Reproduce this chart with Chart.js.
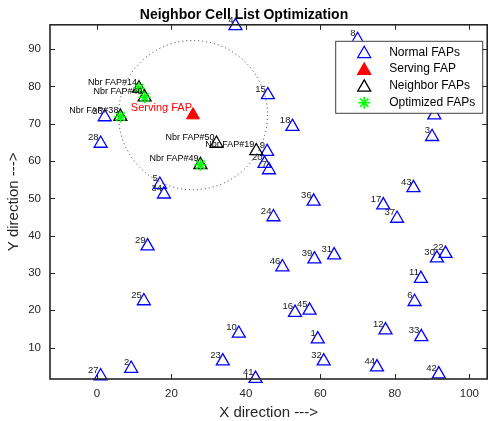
<!DOCTYPE html>
<html>
<head>
<meta charset="utf-8">
<script src="https://cdn.jsdelivr.net/npm/chart.js@4/dist/chart.umd.min.js"></script>
<style>
  html, body { margin: 0; padding: 0; background: #fff; }
</style>
</head>
<body>
<canvas id="c" width="496" height="421"></canvas>
<script>
// Femto access points (FAP) laid out in a 100 x 100 area
const normalIds = [1, 2, 3, 4, 5, 6, 7, 8, 9, 10, 11, 12, 13, 15, 16, 17, 18, 20, 22, 23,
                   24, 25, 26, 27, 28, 29, 30, 31, 32, 33, 34, 36, 37, 39, 41, 42, 43, 44, 45, 46];
const normalX = [59.3, 9.2, 90.0, 37.2, 16.9, 85.3, 46.2, 70.0, 45.7, 38.1, 87.0, 77.5, 90.6, 45.9, 53.2, 76.9, 52.5, 45.0, 93.6, 33.8,
                 47.4, 12.6, 2.1, 1.0, 1.0, 13.6, 91.3, 63.7, 60.9, 87.1, 18.0, 58.2, 80.6, 58.4, 42.6, 91.8, 85.0, 75.2, 57.1, 49.8];
const normalY = [12.3, 4.4, 66.5, 96.2, 53.7, 22.3, 57.6, 92.5, 62.5, 13.8, 28.5, 14.7, 72.3, 77.7, 19.4, 48.2, 69.2, 59.3, 35.2, 6.4,
                 45.0, 22.5, 71.8, 2.4, 64.7, 37.2, 34.0, 34.8, 6.4, 12.9, 51.1, 49.2, 44.6, 33.7, 1.7, 2.9, 52.8, 4.8, 20.0, 31.6];

// Serving FAP and its coverage radius
const servingX = [25.8];
const servingY = [72.3];
const coverageRadius = 20;

// Neighbor cell list before optimization
const neighborIds = [14, 40, 38, 50, 19, 49];
const neighborX = [11.3, 12.8, 6.3, 32.1, 42.8, 27.8];
const neighborY = [79.5, 77.1, 71.9, 64.7, 62.7, 59.0];

// Neighbors kept after optimization
const optimizedIds = [14, 40, 38, 49];

// Axis ticks and limits
const xTicks = [0, 20, 40, 60, 80, 100];
const yTicks = [10, 20, 30, 40, 50, 60, 70, 80, 90];
const xLimits = [-12.6, 104.8];
const yLimits = [1.6, 96.5];

const FONT = '"Liberation Sans", Arial, Helvetica, sans-serif';
Chart.defaults.font.family = FONT;

const pts = (xs, ys) => xs.map((v, i) => ({ x: v, y: ys[i] }));
const optimizedPts = optimizedIds.map(id => {
  const k = neighborIds.indexOf(id);
  return { x: neighborX[k], y: neighborY[k] };
});

const legendItems = [
  { text: 'Normal FAPs', style: 'triangle', stroke: '#0000ff', fill: null },
  { text: 'Serving FAP', style: 'triangle', stroke: '#ff0000', fill: '#ff0000' },
  { text: 'Neighbor FAPs', style: 'triangle', stroke: '#000000', fill: null },
  { text: 'Optimized FAPs', style: 'star', stroke: '#00ff00', fill: null }
];

function drawMarker(ctx, style, x, y, r, stroke, fill, lw) {
  ctx.save();
  ctx.lineWidth = lw;
  ctx.strokeStyle = stroke;
  ctx.beginPath();
  if (style === 'triangle') {
    ctx.moveTo(x, y - r);
    ctx.lineTo(x + 0.866 * r, y + 0.5 * r);
    ctx.lineTo(x - 0.866 * r, y + 0.5 * r);
    ctx.closePath();
    if (fill) { ctx.fillStyle = fill; ctx.fill(); }
  } else {
    const d = r * Math.SQRT1_2;
    ctx.moveTo(x - r, y); ctx.lineTo(x + r, y);
    ctx.moveTo(x, y - r); ctx.lineTo(x, y + r);
    ctx.moveTo(x - d, y - d); ctx.lineTo(x + d, y + d);
    ctx.moveTo(x - d, y + d); ctx.lineTo(x + d, y - d);
  }
  ctx.stroke();
  ctx.restore();
}

const decorations = {
  id: 'decorations',
  afterDatasetsDraw(chart) {
    const { ctx, scales: { x, y } } = chart;
    ctx.save();

    // dotted coverage circle around the serving FAP
    const cx = x.getPixelForValue(servingX[0]);
    const cy = y.getPixelForValue(servingY[0]);
    const rx = Math.abs(x.getPixelForValue(servingX[0] + coverageRadius) - cx);
    const ry = Math.abs(y.getPixelForValue(servingY[0] + coverageRadius) - cy);
    ctx.setLineDash([1, 3]);
    ctx.lineWidth = 1;
    ctx.strokeStyle = '#333333';
    ctx.beginPath();
    ctx.ellipse(cx, cy, rx, ry, 0, 0, Math.PI * 2);
    ctx.stroke();
    ctx.setLineDash([]);

    // point labels
    ctx.textAlign = 'right';
    ctx.textBaseline = 'middle';
    ctx.fillStyle = '#222222';
    ctx.font = '9.5px ' + FONT;
    normalIds.forEach((id, i) => {
      ctx.fillText(String(id), x.getPixelForValue(normalX[i]) - 2, y.getPixelForValue(normalY[i]) - 6);
    });
    ctx.fillStyle = '#000000';
    ctx.font = '9px ' + FONT;
    neighborIds.forEach((id, i) => {
      ctx.fillText('Nbr FAP#' + id, x.getPixelForValue(neighborX[i]) - 2, y.getPixelForValue(neighborY[i]) - 6);
    });
    ctx.fillStyle = '#ff0000';
    ctx.font = '11px ' + FONT;
    ctx.fillText('Serving FAP', cx - 1, cy - 7);
    ctx.restore();
  },
  afterDraw(chart) {
    const { ctx, chartArea: a, scales: { x, y } } = chart;
    ctx.save();

    // axes box with inward ticks
    ctx.strokeStyle = '#262626';
    ctx.lineWidth = 1.6;
    ctx.strokeRect(a.left, a.top, a.right - a.left, a.bottom - a.top);
    ctx.lineWidth = 1;
    ctx.beginPath();
    xTicks.forEach(v => {
      const px = Math.round(x.getPixelForValue(v)) + 0.5;
      ctx.moveTo(px, a.bottom); ctx.lineTo(px, a.bottom - 5);
      ctx.moveTo(px, a.top); ctx.lineTo(px, a.top + 5);
    });
    yTicks.forEach(v => {
      const py = Math.round(y.getPixelForValue(v)) + 0.5;
      ctx.moveTo(a.left, py); ctx.lineTo(a.left + 5, py);
      ctx.moveTo(a.right, py); ctx.lineTo(a.right - 5, py);
    });
    ctx.stroke();

    // legend box
    const bw = 147, bh = 72;
    const bx = a.right - 5 - bw, by = a.top + 16;
    ctx.fillStyle = '#ffffff';
    ctx.fillRect(bx, by, bw, bh);
    ctx.strokeStyle = '#404040';
    ctx.lineWidth = 1;
    ctx.strokeRect(bx + 0.5, by + 0.5, bw, bh);
    ctx.font = '12px ' + FONT;
    ctx.textAlign = 'left';
    ctx.textBaseline = 'middle';
    legendItems.forEach((it, i) => {
      const ry = by + 11.5 + i * 16.8;
      if (it.style === 'triangle') {
        drawMarker(ctx, 'triangle', bx + 29, ry + 1.5, 7.5, it.stroke, it.fill, 1.3);
      } else {
        drawMarker(ctx, 'star', bx + 29, ry, 6, it.stroke, null, 1.6);
      }
      ctx.fillStyle = '#000000';
      ctx.fillText(it.text, bx + 54, ry);
    });
    ctx.restore();
  }
};

new Chart(document.getElementById('c'), {
  type: 'scatter',
  data: {
    datasets: [
      {
        label: 'Optimized FAPs', data: optimizedPts, order: 0, clip: false,
        pointStyle: 'star', pointRadius: 6, pointBorderWidth: 1.6,
        borderColor: '#00ff00', backgroundColor: '#00ff00'
      },
      {
        label: 'Neighbor FAPs', data: pts(neighborX, neighborY), order: 1, clip: false,
        pointStyle: 'triangle', pointRadius: 7.5, pointBorderWidth: 1.3,
        borderColor: '#000000', backgroundColor: 'rgba(0,0,0,0)'
      },
      {
        label: 'Serving FAP', data: pts(servingX, servingY), order: 2, clip: false,
        pointStyle: 'triangle', pointRadius: 7.5, pointBorderWidth: 1,
        borderColor: '#ff0000', backgroundColor: '#ff0000'
      },
      {
        label: 'Normal FAPs', data: pts(normalX, normalY), order: 3, clip: false,
        pointStyle: 'triangle', pointRadius: 7.5, pointBorderWidth: 1.3,
        borderColor: '#0000ff', backgroundColor: 'rgba(0,0,0,0)'
      }
    ]
  },
  options: {
    responsive: false,
    animation: false,
    devicePixelRatio: 1,
    layout: { padding: { right: 8 } },
    plugins: {
      legend: { display: false },
      tooltip: { enabled: false },
      title: {
        display: true,
        text: 'Neighbor Cell List Optimization',
        color: '#000000',
        font: { size: 14, weight: 'bold' },
        padding: { top: 7, bottom: 1 }
      }
    },
    scales: {
      x: {
        type: 'linear',
        min: xLimits[0], max: xLimits[1],
        afterBuildTicks: s => { s.ticks = xTicks.map(v => ({ value: v })); },
        afterFit: s => { s.height = 42; },
        grid: { display: false, drawTicks: false, tickLength: 0 },
        border: { display: false },
        ticks: { padding: 8, color: '#262626', font: { size: 11.5 } },
        title: { display: true, text: 'X direction --->', color: '#262626', font: { size: 15, lineHeight: 1.1 }, padding: 0 }
      },
      y: {
        type: 'linear',
        min: yLimits[0], max: yLimits[1],
        afterBuildTicks: s => { s.ticks = yTicks.map(v => ({ value: v })); },
        afterFit: s => { s.width = 50; },
        grid: { display: false, drawTicks: false, tickLength: 0 },
        border: { display: false },
        ticks: { padding: 9, color: '#262626', font: { size: 11.5 } },
        title: { display: true, text: 'Y direction --->', color: '#262626', font: { size: 15, lineHeight: 1.1 }, padding: { top: 6, bottom: 0 } }
      }
    }
  },
  plugins: [decorations]
});
</script>
</body>
</html>
